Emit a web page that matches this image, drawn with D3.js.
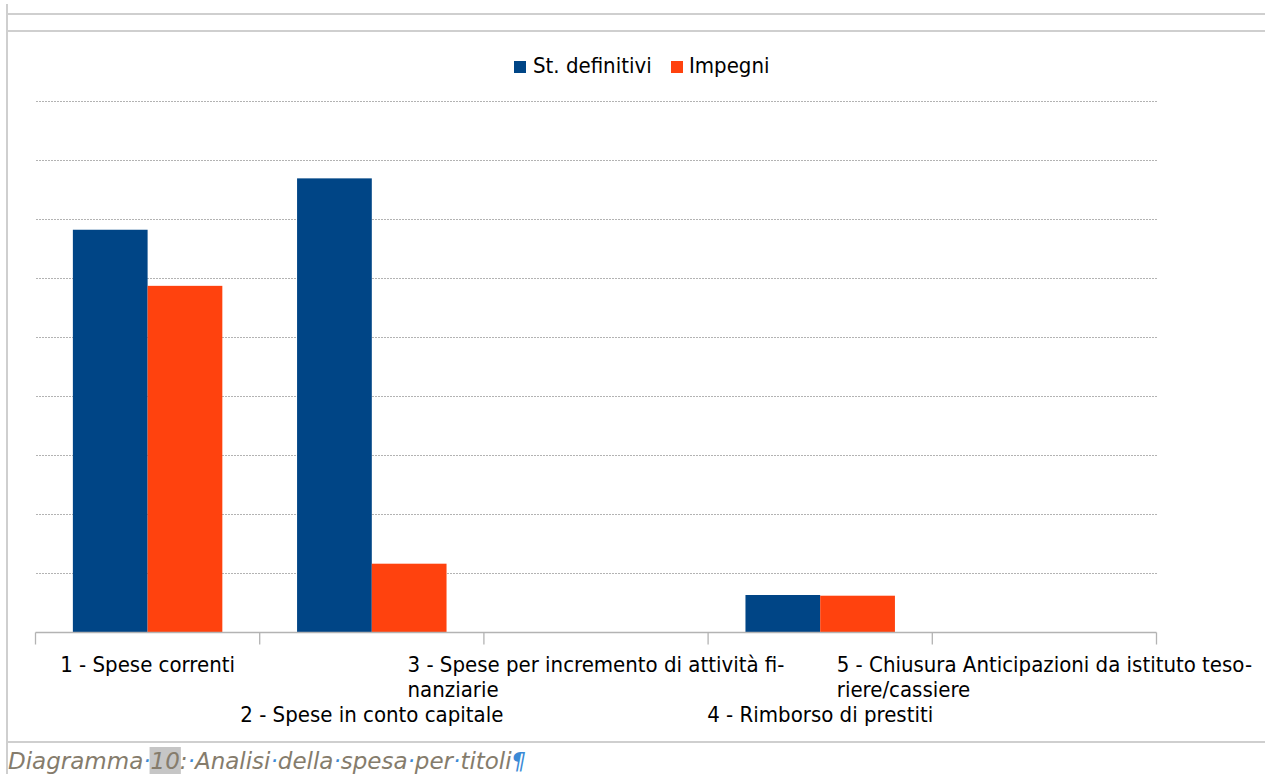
<!DOCTYPE html>
<html>
<head>
<meta charset="utf-8">
<script src="https://cdn.jsdelivr.net/npm/d3@7"></script>
<style>
  html, body { margin: 0; padding: 0; background: #fff; overflow: hidden; }
  svg { display: block; }
  .txt { font-family: "DejaVu Sans Condensed", "DejaVu Sans", sans-serif; font-stretch: condensed; fill: #000; }
  .cap { font-family: "DejaVu Sans", sans-serif; font-style: italic; }
</style>
</head>
<body>
<svg id="chart" width="1265" height="774"></svg>
<script>
// Spending by budget title: final allocations vs commitments (euro)
const categories = [
  "1 - Spese correnti",
  "2 - Spese in conto capitale",
  "3 - Spese per incremento di attività finanziarie",
  "4 - Rimborso di prestiti",
  "5 - Chiusura Anticipazioni da istituto tesoriere/cassiere"
];
const categoryLabelLines = [
  ["1 - Spese correnti"],
  ["2 - Spese in conto capitale"],
  ["3 - Spese per incremento di attività fi-", "nanziarie"],
  ["4 - Rimborso di prestiti"],
  ["5 - Chiusura Anticipazioni da istituto teso-", "riere/cassiere"]
];
const seriesNames = ["St. definitivi", "Impegni"];
const stDefinitivi = [3410000, 3845000, 0, 317500, 0];
const impegni      = [2935000, 582500, 0, 311500, 0];
const gridTicks = [500000, 1000000, 1500000, 2000000, 2500000, 3000000, 3500000, 4000000, 4500000];
const yMax = 4500000;
const seriesColors = ["#004586", "#ff420e"];
const captionWords = ["Diagramma", "10:", "Analisi", "della", "spesa", "per", "titoli"];

const svg = d3.select("#chart");
const W = 1265, H = 774;

// page frame lines around the embedded chart
const frame = svg.append("g").attr("stroke", "#cfcfcf").attr("stroke-width", 2).attr("fill", "none");
frame.append("line").attr("x1", 7).attr("x2", 7).attr("y1", 4).attr("y2", H);
frame.append("line").attr("x1", 8).attr("x2", W).attr("y1", 14).attr("y2", 14);
frame.append("line").attr("x1", 8).attr("x2", W).attr("y1", 31).attr("y2", 31);
frame.append("line").attr("x1", 8).attr("x2", W).attr("y1", 742).attr("y2", 742);

// plot area
const plot = { left: 35.5, right: 1156.5, top: 101, bottom: 632.5 };

const x0 = d3.scaleBand().domain(categories).range([plot.left, plot.right]).padding(0);
const x1 = d3.scaleBand().domain(seriesNames).range([0, x0.bandwidth()]).paddingInner(0).paddingOuter(0.5);
const y = d3.scaleLinear().domain([0, yMax]).range([plot.bottom, plot.top]);

// dashed horizontal gridlines
const grid = svg.append("g")
  .attr("transform", `translate(${plot.left},0)`)
  .call(d3.axisLeft(y).tickValues(gridTicks).tickSize(-(plot.right - plot.left)).tickFormat(""));
grid.select(".domain").remove();
grid.selectAll(".tick line")
  .attr("stroke", "#b3b3b3")
  .attr("stroke-width", 1)
  .attr("stroke-dasharray", "2,1")
  .attr("shape-rendering", "crispEdges");

// bars
const rows = categories.map((c, i) => ({ cat: c, values: [stDefinitivi[i], impegni[i]] }));
const groups = svg.append("g").selectAll("g").data(rows).join("g")
  .attr("transform", d => `translate(${x0(d.cat)},0)`);
groups.selectAll("rect")
  .data(d => d.values.map((v, k) => ({ name: seriesNames[k], value: v, k })))
  .join("rect")
  .attr("x", d => x1(d.name))
  .attr("width", x1.bandwidth())
  .attr("y", d => y(d.value))
  .attr("height", d => y(0) - y(d.value))
  .attr("fill", d => seriesColors[d.k]);

// category axis: baseline and boundary ticks
const axis = svg.append("g").attr("stroke", "#b3b3b3").attr("stroke-width", 1.3).attr("fill", "none");
axis.append("line").attr("x1", plot.left).attr("x2", plot.right).attr("y1", y(0)).attr("y2", y(0));
const boundaries = categories.map(c => x0(c)).concat([x0(categories[categories.length - 1]) + x0.bandwidth()]);
axis.selectAll("line.tk").data(boundaries).join("line").attr("class", "tk")
  .attr("x1", d => d).attr("x2", d => d)
  .attr("y1", y(0)).attr("y2", y(0) + 12);

// category labels, staggered in two tiers
const labelFont = 22, lineH = 25, firstBase = 671.5;
const topLines = d3.max(categoryLabelLines.filter((d, i) => i % 2 === 0), d => d.length);
const labels = svg.append("g");
categoryLabelLines.forEach((lines, i) => {
  const cx = x0(categories[i]) + x0.bandwidth() / 2;
  const base = i % 2 === 0 ? firstBase : firstBase + topLines * lineH;
  const t = labels.append("text").attr("class", "txt").attr("font-size", labelFont);
  lines.forEach((ln, j) => {
    t.append("tspan").attr("y", base + j * lineH).text(ln);
  });
  const widths = t.selectAll("tspan").nodes().map(n => n.getComputedTextLength());
  const bw = d3.max(widths);
  t.selectAll("tspan").attr("x", cx - bw / 2);
});

// legend
const legend = svg.append("g");
const legendItems = [
  { name: seriesNames[0], color: seriesColors[0], sx: 514, tx: 533 },
  { name: seriesNames[1], color: seriesColors[1], sx: 671, tx: 689 }
];
legendItems.forEach(it => {
  legend.append("rect").attr("x", it.sx).attr("y", 61).attr("width", 12).attr("height", 12).attr("fill", it.color);
  legend.append("text").attr("class", "txt").attr("font-size", 22).attr("x", it.tx).attr("y", 73).text(it.name);
});

// caption below the frame, with formatting marks
const capG = svg.append("g");
const cap = capG.append("text").attr("class", "cap").attr("font-size", 23).attr("x", 8).attr("y", 769);
const ink = "#857c6c", mark = "#3b8ad6";
captionWords.forEach((w, i) => {
  if (w === "10:") {
    cap.append("tspan").attr("class", "num").attr("fill", ink).text("10");
    cap.append("tspan").attr("fill", ink).text(":");
    cap.append("tspan").attr("fill", mark).text("·");
  } else {
    cap.append("tspan").attr("fill", ink).text(w);
    cap.append("tspan").attr("fill", mark).text(i < captionWords.length - 1 ? "·" : "¶");
  }
});
const numNode = cap.select("tspan.num").node();
const nb = numNode.getBBox();
capG.insert("rect", "text")
  .attr("x", nb.x - 1).attr("y", 747).attr("width", nb.width + 2).attr("height", H - 747)
  .attr("fill", "#c6c6c6");
</script>
</body>
</html>
